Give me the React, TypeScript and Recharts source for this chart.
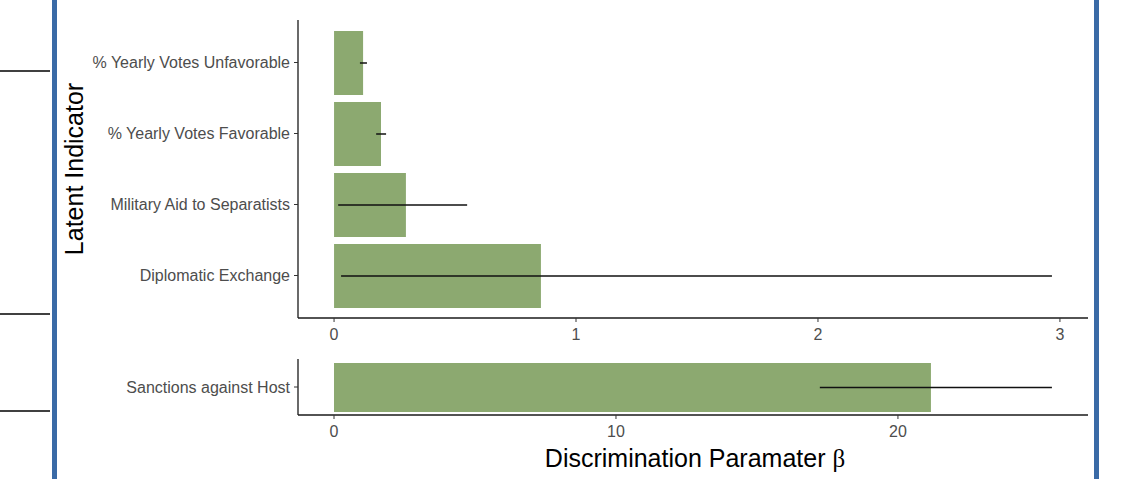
import React from "react";
import { BarChart, Bar, XAxis, YAxis, ErrorBar } from "recharts";

const topCategories = [
  "% Yearly Votes Unfavorable",
  "% Yearly Votes Favorable",
  "Military Aid to Separatists",
  "Diplomatic Exchange",
];
const topBeta = [0.12, 0.194, 0.297, 0.855];
const topLower = [0.107, 0.174, 0.017, 0.029];
const topUpper = [0.136, 0.215, 0.55, 2.967];
const topTicks = [0, 1, 2, 3];

const bottomCategories = ["Sanctions against Host"];
const bottomBeta = [21.17];
const bottomLower = [17.23];
const bottomUpper = [25.46];
const bottomTicks = [0, 10, 20];

const build = (cats: string[], v: number[], lo: number[], hi: number[]) =>
  cats.map((name, i) => ({ name, beta: v[i], err: [v[i] - lo[i], hi[i] - v[i]] }));

const topData = build(topCategories, topBeta, topLower, topUpper);
const bottomData = build(bottomCategories, bottomBeta, bottomLower, bottomUpper);

const FONT = "'Liberation Sans', Arial, sans-serif";
const GREEN = "#8CA970";
const tickStyle = { fill: "#4D4D4D", fontSize: 16, fontFamily: FONT };
const axisLine = { stroke: "#1a1a1a", strokeWidth: 1.3 };
const tickLine = { stroke: "#333333", strokeWidth: 1 };

export default function App() {
  return (
    <div style={{ position: "absolute", left: 0, top: 0, width: 1136, height: 479, background: "#fff", overflow: "hidden" }}>
      {/* decorative slide lines */}
      <div style={{ position: "absolute", left: 52, top: 0, width: 5, height: 479, background: "#3A6AA6" }} />
      <div style={{ position: "absolute", left: 1094, top: 0, width: 5, height: 479, background: "#3A6AA6" }} />
      <div style={{ position: "absolute", left: 0, top: 70, width: 50, height: 2, background: "#404040" }} />
      <div style={{ position: "absolute", left: 0, top: 313, width: 50, height: 2, background: "#404040" }} />
      <div style={{ position: "absolute", left: 0, top: 410, width: 50, height: 2, background: "#404040" }} />

      <div style={{ position: "absolute", left: 0, top: 0 }}>
        <BarChart
          width={1136}
          height={345}
          layout="vertical"
          data={topData}
          margin={{ top: 20, right: 48, bottom: 0, left: 0 }}
        >
          <XAxis
            type="number"
            domain={[-0.149, 3.116]}
            ticks={topTicks}
            height={27}
            tick={tickStyle}
            tickSize={4}
            tickMargin={7}
            axisLine={axisLine}
            tickLine={tickLine}
          />
          <YAxis
            type="category"
            dataKey="name"
            width={298}
            padding={{ top: 7, bottom: 7 }}
            tick={tickStyle}
            tickSize={4}
            tickMargin={4}
            axisLine={axisLine}
            tickLine={tickLine}
          />
          <Bar dataKey="beta" fill={GREEN} barSize={64} isAnimationActive={false}>
            <ErrorBar dataKey="err" direction="x" width={0} stroke="#111" strokeWidth={1.5} />
          </Bar>
        </BarChart>
      </div>

      <div style={{ position: "absolute", left: 0, top: 340 }}>
        <BarChart
          width={1136}
          height={101}
          layout="vertical"
          data={bottomData}
          margin={{ top: 19, right: 48, bottom: 0, left: 0 }}
        >
          <XAxis
            type="number"
            domain={[-1.277, 26.74]}
            ticks={bottomTicks}
            height={26}
            tick={tickStyle}
            tickSize={4}
            tickMargin={7}
            axisLine={axisLine}
            tickLine={tickLine}
          />
          <YAxis
            type="category"
            dataKey="name"
            width={298}
            tick={tickStyle}
            tickSize={4}
            tickMargin={4}
            axisLine={axisLine}
            tickLine={tickLine}
          />
          <Bar dataKey="beta" fill={GREEN} barSize={49} isAnimationActive={false}>
            <ErrorBar dataKey="err" direction="x" width={0} stroke="#111" strokeWidth={1.5} />
          </Bar>
        </BarChart>
      </div>

      <svg width={1136} height={479} style={{ position: "absolute", left: 0, top: 0, pointerEvents: "none" }}>
        <text
          x={0}
          y={0}
          transform="translate(83,169) rotate(-90)"
          textAnchor="middle"
          fontFamily={FONT}
          fontSize={25}
          fill="#000"
        >
          Latent Indicator
        </text>
        <text x={695} y={467} textAnchor="middle" fontFamily={FONT} fontSize={25} fill="#000">
          Discrimination Paramater <tspan fontFamily="'Liberation Serif', 'DejaVu Serif', serif">β</tspan>
        </text>
      </svg>
    </div>
  );
}
